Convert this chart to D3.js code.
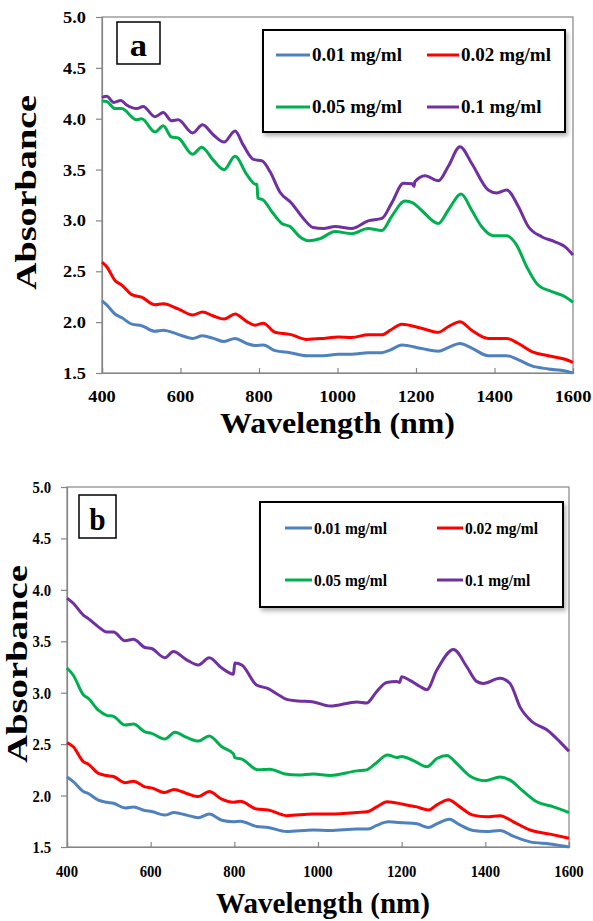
<!DOCTYPE html>
<html lang="en">
<head>
<meta charset="UTF-8" />
<title>Absorbance spectra</title>
<script src="https://d3js.org/d3.v7.min.js"></script>
<style>
  body { margin: 0; background: #fff; }
  text { font-family: "Liberation Serif", "Times New Roman", serif; font-weight: bold; fill: #000; }
</style>
</head>
<body>
<div id="chart"></div>
<script>
// tick values and legend labels
const xTicks = [400, 600, 800, 1000, 1200, 1400, 1600];
const yTicks = [1.5, 2.0, 2.5, 3.0, 3.5, 4.0, 4.5, 5.0];
const seriesLabels = ["0.01 mg/ml", "0.02 mg/ml", "0.05 mg/ml", "0.1 mg/ml"];
const seriesColors = ["#4f81bd", "#ff0000", "#00b050", "#7030a0"];

// panel a: [wavelength nm, absorbance]
const a01 = [[400,2.21],[412,2.17],[433,2.08],[450,2.045],[476,1.98],[501,1.965],[535,1.91],[556,1.92],[594,1.88],[631,1.84],[656,1.865],[684,1.84],[711,1.81],[739,1.84],[769,1.79],[790,1.77],[811,1.775],[841,1.72],[879,1.70],[921,1.67],[964,1.67],[1002,1.685],[1036,1.685],[1078,1.70],[1113,1.70],[1134,1.725],[1164,1.775],[1214,1.74],[1257,1.715],[1282,1.75],[1312,1.79],[1342,1.745],[1384,1.67],[1431,1.67],[1461,1.63],[1495,1.57],[1537,1.54],[1580,1.52],[1600,1.50]];
const a02 = [[400,2.59],[412,2.545],[433,2.41],[450,2.365],[476,2.27],[501,2.245],[535,2.17],[556,2.18],[594,2.13],[631,2.07],[656,2.10],[684,2.06],[711,2.03],[739,2.08],[769,2.005],[790,1.97],[811,1.99],[841,1.90],[879,1.88],[921,1.83],[964,1.84],[1002,1.855],[1036,1.85],[1078,1.875],[1113,1.875],[1134,1.92],[1164,1.98],[1214,1.94],[1257,1.90],[1282,1.955],[1312,2.005],[1342,1.92],[1384,1.84],[1431,1.84],[1461,1.79],[1495,1.71],[1537,1.67],[1580,1.635],[1600,1.605]];
const a05 = [[400,4.175],[412,4.17],[433,4.10],[450,4.10],[488,3.99],[501,4.00],[535,3.87],[556,3.93],[577,3.82],[594,3.81],[631,3.65],[654,3.72],[684,3.59],[711,3.50],[739,3.63],[769,3.45],[792,3.355],[795,3.355],[797,3.22],[811,3.20],[832,3.09],[858,2.97],[879,2.94],[904,2.84],[926,2.80],[955,2.82],[994,2.89],[1036,2.87],[1078,2.92],[1113,2.90],[1138,3.04],[1172,3.19],[1193,3.17],[1214,3.10],[1257,2.97],[1282,3.10],[1315,3.26],[1342,3.10],[1367,2.94],[1397,2.85],[1431,2.85],[1456,2.76],[1482,2.545],[1511,2.365],[1546,2.30],[1580,2.25],[1600,2.195]];
const a10 = [[400,4.21],[412,4.22],[430,4.16],[448,4.18],[463,4.135],[488,4.10],[505,4.12],[535,4.02],[556,4.06],[577,3.98],[594,3.99],[631,3.86],[656,3.94],[684,3.84],[711,3.77],[739,3.88],[760,3.74],[786,3.60],[808,3.585],[828,3.48],[853,3.28],[883,3.17],[913,3.02],[938,2.93],[964,2.92],[994,2.94],[1036,2.92],[1078,2.995],[1113,3.02],[1138,3.17],[1168,3.365],[1190,3.36],[1195,3.335],[1197,3.38],[1223,3.44],[1257,3.39],[1282,3.53],[1312,3.725],[1342,3.56],[1384,3.30],[1406,3.27],[1431,3.30],[1461,3.135],[1486,2.94],[1520,2.84],[1554,2.79],[1580,2.74],[1600,2.66]];

// panel b
const b01 = [[400,2.18],[415,2.135],[439,2.04],[451,2.02],[475,1.955],[495,1.935],[511,1.925],[539,1.88],[559,1.89],[586,1.855],[602,1.845],[634,1.81],[656,1.835],[686,1.81],[714,1.785],[740,1.82],[770,1.76],[798,1.745],[814,1.75],[853,1.70],[881,1.69],[925,1.65],[989,1.665],[1029,1.66],[1093,1.675],[1120,1.675],[1140,1.71],[1168,1.745],[1204,1.735],[1236,1.725],[1264,1.69],[1284,1.725],[1314,1.77],[1339,1.715],[1371,1.66],[1403,1.65],[1435,1.66],[1467,1.605],[1507,1.55],[1555,1.53],[1600,1.50]];
const b02 = [[400,2.515],[415,2.475],[439,2.33],[451,2.305],[475,2.215],[495,2.195],[511,2.185],[539,2.125],[559,2.14],[586,2.085],[602,2.075],[634,2.03],[656,2.06],[686,2.02],[714,1.99],[740,2.04],[770,1.965],[798,1.935],[814,1.945],[853,1.87],[881,1.86],[925,1.805],[989,1.82],[1029,1.82],[1093,1.835],[1120,1.845],[1140,1.89],[1166,1.94],[1204,1.915],[1236,1.89],[1264,1.86],[1284,1.91],[1312,1.96],[1339,1.89],[1371,1.81],[1403,1.795],[1435,1.805],[1467,1.745],[1507,1.665],[1555,1.625],[1600,1.585]];
const b05 = [[400,3.24],[415,3.17],[439,2.98],[451,2.945],[475,2.83],[495,2.78],[511,2.77],[539,2.685],[559,2.695],[586,2.62],[602,2.605],[634,2.55],[658,2.615],[686,2.565],[714,2.53],[740,2.58],[770,2.475],[798,2.405],[801,2.37],[818,2.355],[857,2.25],[885,2.255],[921,2.21],[953,2.20],[989,2.21],[1029,2.195],[1093,2.24],[1116,2.25],[1140,2.32],[1166,2.395],[1188,2.37],[1200,2.38],[1228,2.34],[1260,2.28],[1284,2.36],[1308,2.39],[1332,2.31],[1363,2.19],[1399,2.145],[1435,2.18],[1459,2.15],[1491,2.04],[1523,1.94],[1563,1.89],[1600,1.835]];
const b10 = [[400,3.92],[415,3.87],[439,3.755],[451,3.72],[475,3.64],[495,3.59],[511,3.59],[539,3.505],[559,3.52],[586,3.44],[602,3.43],[634,3.34],[654,3.40],[686,3.32],[714,3.27],[740,3.34],[770,3.24],[798,3.18],[801,3.29],[818,3.27],[853,3.075],[881,3.04],[905,2.98],[925,2.935],[953,2.92],[989,2.91],[1029,2.87],[1093,2.91],[1116,2.90],[1140,3.01],[1164,3.10],[1188,3.11],[1195,3.10],[1200,3.155],[1220,3.12],[1244,3.06],[1260,3.03],[1284,3.22],[1324,3.42],[1356,3.25],[1379,3.11],[1395,3.09],[1435,3.14],[1459,3.09],[1483,2.86],[1511,2.72],[1547,2.64],[1579,2.52],[1600,2.43]];

const svg = d3.select("#chart").append("svg")
  .attr("width", 593).attr("height", 921);

// soft shadow for legend boxes
svg.append("defs").append("filter").attr("id", "shadow")
  .attr("x", "-5%").attr("y", "-5%").attr("width", "115%").attr("height", "125%")
  .append("feDropShadow")
  .attr("dx", 2).attr("dy", 3).attr("stdDeviation", 2)
  .attr("flood-color", "#000").attr("flood-opacity", 0.3);

// text with horizontal squeeze/stretch (the original image is rescaled per panel)
function label(g, x, y, str, size, sx, anchor, rot) {
  return g.append("text")
    .attr("transform", `translate(${x},${y})` + (rot ? ` rotate(${rot})` : "") + ` scale(${sx},1)`)
    .attr("text-anchor", anchor || "start")
    .style("font-size", size + "px")
    .text(str);
}

function drawPanel(p) {
  const g = svg.append("g");
  const x = d3.scaleLinear().domain([400, 1600]).range([p.left, p.right]);
  const y = d3.scaleLinear().domain([1.5, 5.0]).range([p.bottom, p.top]);

  // plot frame
  g.append("rect")
    .attr("x", p.left).attr("y", p.top)
    .attr("width", p.right - p.left).attr("height", p.bottom - p.top)
    .attr("fill", "none").attr("stroke", "#868686").attr("stroke-width", 1.2);

  // y axis: outside ticks
  const yAxis = g.append("g").attr("transform", `translate(${p.left},0)`)
    .call(d3.axisLeft(y).tickValues(yTicks).tickSize(6).tickFormat(""));
  // x axis: inside ticks
  const xAxis = g.append("g").attr("transform", `translate(0,${p.bottom})`)
    .call(d3.axisTop(x).tickValues(xTicks).tickSize(5).tickFormat(""));
  [yAxis, xAxis].forEach(a => {
    a.select(".domain").attr("stroke", "#868686").attr("stroke-width", 1.2);
    a.selectAll(".tick line").attr("stroke", "#868686").attr("stroke-width", 1.2);
  });

  yTicks.forEach(v => label(g, p.left - 16, y(v) + 6, d3.format(".1f")(v), p.tickSize, p.tickSx, "end"));
  xTicks.forEach(v => label(g, x(v), p.xTickY, String(v), p.tickSize, p.tickSx, "middle"));

  // axis titles
  g.append("text")
    .attr("x", p.xTitle[0]).attr("y", p.xTitle[1])
    .attr("textLength", p.xTitle[2]).attr("lengthAdjust", "spacingAndGlyphs")
    .style("font-size", p.titleSize + "px")
    .text("Wavelength (nm)");
  g.append("text")
    .attr("transform", `translate(${p.yTitle[0]},${p.yTitle[1]}) rotate(-90)`)
    .attr("textLength", p.yTitle[2]).attr("lengthAdjust", "spacingAndGlyphs")
    .style("font-size", p.titleSize + "px")
    .text("Absorbance");

  // curves
  const line = d3.line()
    .x(d => x(d[0])).y(d => y(d[1]))
    .curve(d3.curveMonotoneX);
  p.series.forEach((s, i) => {
    g.append("path")
      .datum(s)
      .attr("fill", "none")
      .attr("stroke", seriesColors[i])
      .attr("stroke-width", 3)
      .attr("stroke-linejoin", "round")
      .attr("d", line);
  });

  // panel letter box
  const lb = p.letterBox;
  g.append("rect")
    .attr("x", lb[0]).attr("y", lb[1]).attr("width", lb[2]).attr("height", lb[3])
    .attr("fill", "#fff").attr("stroke", "#000").attr("stroke-width", 1.5);
  label(g, lb[0] + lb[2] / 2, lb[1] + lb[3] - 8, p.letter, 32, p.tickSx, "middle");

  // legend
  const lg = p.legend;
  g.append("rect")
    .attr("x", lg.x).attr("y", lg.y).attr("width", lg.w).attr("height", lg.h)
    .attr("fill", "#fff").attr("stroke", "#000").attr("stroke-width", 2)
    .attr("filter", "url(#shadow)");
  seriesLabels.forEach((t, i) => {
    const col = i % 2, row = Math.floor(i / 2);
    const c = lg.cols[col], ry = lg.rows[row];
    g.append("line")
      .attr("x1", c[0]).attr("x2", c[1]).attr("y1", ry).attr("y2", ry)
      .attr("stroke", seriesColors[i]).attr("stroke-width", 3);
    label(g, c[1] + 2, ry + 6, t, lg.size, lg.sx, "start");
  });
}

drawPanel({
  left: 102, right: 573, top: 17, bottom: 373,
  tickSize: 17, tickSx: 1.08, xTickY: 402,
  titleSize: 30, xTitle: [220, 433, 235], yTitle: [36, 290, 195],
  series: [a01, a02, a05, a10],
  letter: "a", letterBox: [117, 22, 43, 42],
  legend: { x: 263, y: 30, w: 302, h: 102, rows: [55, 107], cols: [[276, 310], [427, 459]], size: 18, sx: 1.06 }
});

drawPanel({
  left: 67, right: 569, top: 487, bottom: 847,
  tickSize: 16, tickSx: 0.92, xTickY: 877,
  titleSize: 30, xTitle: [216, 913, 214], yTitle: [27, 763, 198],
  series: [b01, b02, b05, b10],
  letter: "b", letterBox: [79, 495, 37, 43],
  legend: { x: 260, y: 502, w: 303, h: 105, rows: [528, 580], cols: [[285, 312], [437, 463]], size: 17, sx: 0.91 }
});
</script>
</body>
</html>
